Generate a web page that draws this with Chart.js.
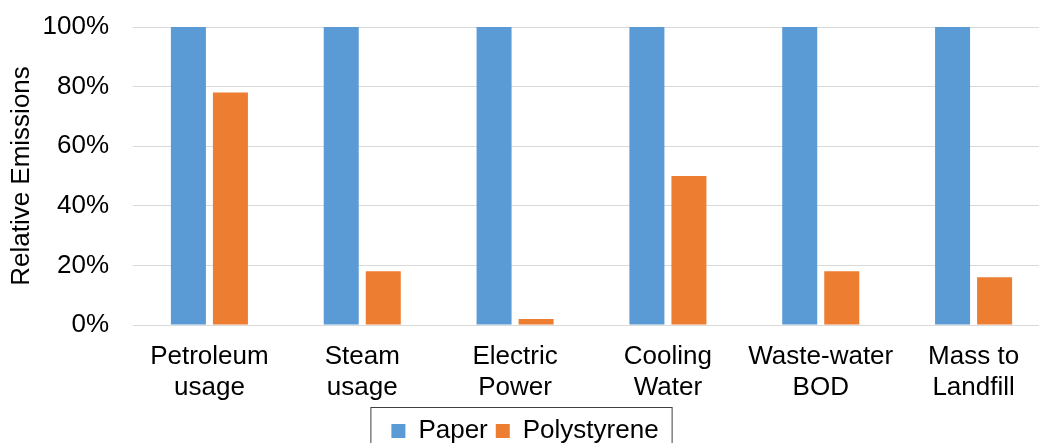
<!DOCTYPE html>
<html>
<head>
<meta charset="utf-8">
<script src="https://cdn.jsdelivr.net/npm/chart.js@4/dist/chart.umd.min.js"></script>
<style>
  html, body { margin: 0; padding: 0; background: #fff; overflow: hidden; }
  #wrap { width: 1050px; height: 454px; position: relative; }
</style>
</head>
<body>
<div id="wrap"><canvas id="emissionsChart"></canvas></div>
<script>
const categories = [
    ['Petroleum', 'usage'],
    ['Steam', 'usage'],
    ['Electric', 'Power'],
    ['Cooling', 'Water'],
    ['Waste-water', 'BOD'],
    ['Mass to', 'Landfill']
];
const paperValues = [100, 100, 100, 100, 100, 100];
const polystyreneValues = [78, 18, 2, 50, 18, 16];
const yTicks = [0, 20, 40, 60, 80, 100];

// draws a thin frame round the legend items, like the original
const legendBox = {
    id: 'legendBox',
    afterDraw(chart) {
        const boxes = chart.legend.legendHitBoxes;
        if (!boxes || !boxes.length) return;
        const left = Math.min(...boxes.map(b => b.left)) - 21;
        const right = Math.max(...boxes.map(b => b.left + b.width)) + 13;
        const top = boxes[0].top - 11;
        const ctx = chart.ctx;
        ctx.save();
        ctx.strokeStyle = '#404040';
        ctx.lineWidth = 1;
        ctx.strokeRect(left + 0.5, top + 0.5, right - left, 60);
        ctx.restore();
    }
};

const ctx = document.getElementById('emissionsChart').getContext('2d');
const emissionsChart = new Chart(ctx, {
    type: 'bar',
    data: {
        labels: categories,
        datasets: [
            {
                label: 'Paper',
                data: paperValues,
                backgroundColor: '#5b9bd5',
                categoryPercentage: 0.55,
                barPercentage: 0.833
            },
            {
                label: 'Polystyrene',
                data: polystyreneValues,
                backgroundColor: '#ed7d31',
                categoryPercentage: 0.55,
                barPercentage: 0.833
            }
        ]
    },
    options: {
        responsive: true,
        maintainAspectRatio: false,
        animation: false,
        layout: { padding: { top: 27, right: 0, left: 0, bottom: 0 } },
        plugins: {
            legend: {
                position: 'bottom',
                labels: {
                    font: { family: 'Liberation Sans', size: 26 },
                    color: '#000',
                    boxWidth: 14,
                    boxHeight: 14,
                    padding: 8
                }
            },
            tooltip: { enabled: false }
        },
        scales: {
            x: {
                grid: { display: false },
                border: { display: false },
                ticks: {
                    font: { family: 'Liberation Sans', size: 26 },
                    color: '#000',
                    maxRotation: 0,
                    padding: 8
                },
                afterFit(scale) { scale.height = 85; }
            },
            y: {
                min: 0,
                max: 100,
                afterBuildTicks(scale) {
                    scale.ticks = yTicks.map(v => ({ value: v }));
                },
                grid: { color: '#d9d9d9', drawTicks: false },
                border: { display: false },
                ticks: {
                    font: { family: 'Liberation Sans', size: 26 },
                    color: '#000',
                    padding: 24,
                    callback: v => v + '%'
                },
                title: {
                    display: true,
                    text: 'Relative Emissions',
                    font: { family: 'Liberation Sans', size: 26 },
                    color: '#000',
                    padding: { top: 6, bottom: 4 }
                },
                afterFit(scale) {
                    scale.width = 133;
                    scale.paddingTop = 0;
                    scale.paddingBottom = 0;
                }
            }
        }
    },
    plugins: [legendBox]
});
</script>
</body>
</html>
